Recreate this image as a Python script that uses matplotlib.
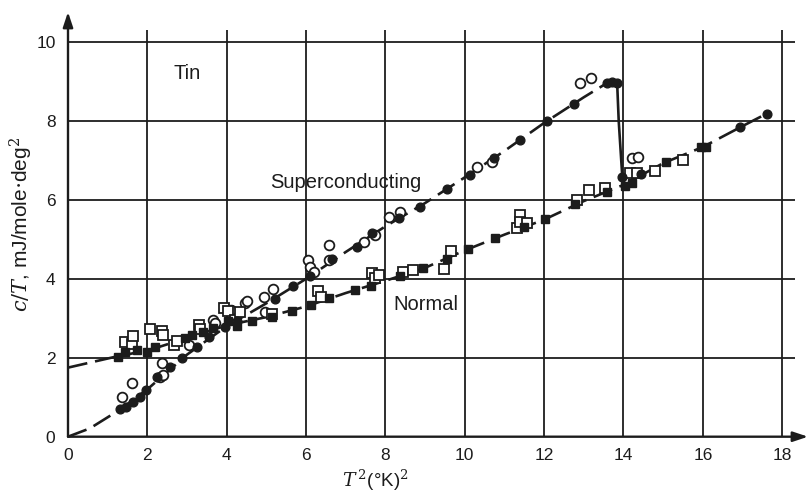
import matplotlib
matplotlib.use("Agg")
import matplotlib.pyplot as plt
import numpy as np

plt.rcParams['font.family'] = ['Liberation Sans', 'DejaVu Sans']
plt.rcParams['mathtext.fontset'] = 'dejavuserif'

INK = '#1c1c1c'

# superconducting state: filled circles (measured), open circles (other run)
sc_fill_x = [1.31, 1.45, 1.65, 1.82, 1.96, 2.24, 2.57, 2.87, 3.25, 3.56, 3.96, 4.25,
             5.22, 5.68, 6.10, 6.65, 7.28, 7.66, 8.33, 8.86, 9.55, 10.14, 10.73,
             11.40, 12.06, 12.74, 13.58, 13.70, 13.84]
sc_fill_y = [0.69, 0.75, 0.89, 1.01, 1.18, 1.52, 1.76, 1.99, 2.26, 2.52, 2.79, 2.92,
             3.50, 3.83, 4.06, 4.50, 4.80, 5.17, 5.54, 5.83, 6.28, 6.63, 7.06,
             7.52, 7.99, 8.43, 8.97, 8.98, 8.96]
sc_open_x = [1.35, 1.61, 2.32, 2.40, 2.36, 3.06, 3.66, 3.71, 4.10, 4.46, 4.50, 4.93,
             4.97, 5.16, 6.06, 6.10, 6.19, 6.57, 6.59, 7.45, 7.74, 8.10, 8.36,
             10.32, 10.69, 12.91, 13.18, 14.22, 14.36]
sc_open_y = [1.01, 1.35, 1.52, 1.56, 1.86, 2.32, 2.96, 2.87, 3.21, 3.38, 3.45, 3.55,
             3.17, 3.74, 4.48, 4.31, 4.18, 4.48, 4.86, 4.94, 5.11, 5.56, 5.70,
             6.83, 6.97, 8.96, 9.08, 7.06, 7.08]

# normal state: filled squares, open squares
n_fill_x = [1.27, 1.44, 1.73, 1.98, 2.19, 2.95, 3.12, 3.41, 3.66, 4.04, 4.25, 4.63,
            5.14, 5.64, 6.12, 6.59, 7.24, 7.63, 8.37, 8.95, 9.55, 10.08, 10.77,
            11.48, 12.03, 12.79, 13.59, 14.05, 14.22, 15.06, 15.95, 16.08]
n_fill_y = [2.03, 2.15, 2.20, 2.15, 2.28, 2.49, 2.58, 2.66, 2.75, 2.92, 2.81, 2.94,
            3.04, 3.19, 3.34, 3.51, 3.72, 3.82, 4.06, 4.27, 4.50, 4.75, 5.03,
            5.32, 5.51, 5.90, 6.19, 6.36, 6.42, 6.97, 7.34, 7.34]
n_open_x = [1.44, 1.61, 1.65, 2.07, 2.36, 2.40, 2.66, 2.74, 3.31, 3.33, 3.94, 4.03,
            4.21, 4.34, 5.14, 6.31, 6.37, 7.66, 7.74, 7.83, 8.44, 8.69, 9.47, 9.65,
            11.32, 11.40, 11.40, 11.58, 12.83, 13.12, 13.54, 14.13, 14.17, 14.33,
            14.80, 15.50]
n_open_y = [2.41, 2.35, 2.55, 2.74, 2.69, 2.58, 2.32, 2.43, 2.83, 2.73, 3.25, 3.19,
            2.96, 3.15, 3.10, 3.68, 3.55, 4.14, 4.01, 4.10, 4.18, 4.23, 4.24, 4.71,
            5.28, 5.62, 5.45, 5.41, 6.00, 6.25, 6.30, 6.52, 6.68, 6.68,
            6.72, 7.00]
n_dot_x = [13.96, 14.43, 16.93, 17.62]
n_dot_y = [6.58, 6.66, 7.84, 8.18]

# fitted curves drawn through the data
sc_curve_x = [0, 0.55, 1.3, 2, 3, 4, 5, 6, 7, 8, 9, 10, 11, 12, 13, 13.6, 13.84]
sc_curve_y = [0, 0.21, 0.68, 1.2, 2.08, 2.8, 3.38, 4.0, 4.68, 5.33, 5.92, 6.57,
              7.24, 7.95, 8.6, 8.97, 8.96]
jump_x = [13.84, 13.88, 13.97]
jump_y = [8.96, 7.99, 6.58]
n_curve_x = [0, 1.3, 2, 3, 4, 5, 6, 7, 8, 9, 10, 11, 12, 13, 14, 15, 16, 17, 17.6]
n_curve_y = [1.75, 2.05, 2.18, 2.50, 2.82, 3.03, 3.30, 3.64, 3.95, 4.28, 4.72,
             5.12, 5.50, 5.97, 6.38, 6.93, 7.34, 7.87, 8.18]

x_ticks = [0, 2, 4, 6, 8, 10, 12, 14, 16, 18]
y_ticks = [0, 2, 4, 6, 8, 10]

fig = plt.figure(figsize=(8.1, 4.96), dpi=100)
ax = fig.add_axes([68 / 810, 59.3 / 496, 740 / 810, 424.7 / 496])
ax.set_xlim(0, 18.65)
ax.set_ylim(0, 10.76)
for s in ax.spines.values():
    s.set_visible(False)

# grid
ax.vlines(x_ticks[1:], 0, 10.3, color=INK, lw=1.3, zorder=1)
ax.hlines(y_ticks[1:], 0, 18.33, color=INK, lw=1.3, zorder=1)

# axes with arrows
ax.annotate('', xy=(0, 10.76), xytext=(0, 0), annotation_clip=False,
            arrowprops=dict(arrowstyle='-|>,head_length=0.9,head_width=0.3',
                            color=INK, lw=1.7, shrinkA=0, shrinkB=0))
ax.annotate('', xy=(18.65, 0), xytext=(0, 0), annotation_clip=False,
            arrowprops=dict(arrowstyle='-|>,head_length=0.9,head_width=0.3',
                            color=INK, lw=1.7, shrinkA=0, shrinkB=0))

dash = (0, (7.5, 3))
ax.plot(sc_curve_x, sc_curve_y, color=INK, lw=1.9, linestyle=dash, zorder=2, clip_on=False)
ax.plot(n_curve_x, n_curve_y, color=INK, lw=1.9, linestyle=dash, zorder=2, clip_on=False)
ax.plot(jump_x, jump_y, color=INK, lw=1.9, zorder=2)

ax.plot(sc_open_x, sc_open_y, 'o', ms=7, mfc='white', mec=INK, mew=1.3, zorder=3)
ax.plot(n_open_x, n_open_y, 's', ms=6.5, mfc='white', mec=INK, mew=1.3, zorder=3)
ax.plot(sc_fill_x, sc_fill_y, 'o', ms=6.3, color=INK, zorder=4)
ax.plot(n_fill_x, n_fill_y, 's', ms=6, color=INK, zorder=4)
ax.plot(n_dot_x, n_dot_y, 'o', ms=6.3, color=INK, zorder=4)

ax.set_xticks(x_ticks)
ax.set_yticks(y_ticks)
ax.tick_params(length=0, labelsize=12.5, colors=INK)
ax.tick_params(axis='x', pad=8)
ax.tick_params(axis='y', pad=9)

ax.set_xlabel(r'$T^{\,2}$(°K)$^{2}$', fontsize=13.5, color=INK)
ax.xaxis.set_label_coords(0.415, -0.073)
ax.set_ylabel(r'$c/T$, mJ/mole$\cdot$deg$^2$', fontsize=15, color=INK)
ax.yaxis.set_label_coords(-0.045, 0.5)

ax.text(3.0, 9.2, 'Tin', fontsize=14.5, color=INK, ha='center', va='center')
ax.text(7.0, 6.45, 'Superconducting', fontsize=14.5, color=INK, ha='center', va='center')
ax.text(8.2, 3.36, 'Normal', fontsize=14.5, color=INK, ha='left', va='center')

fig.savefig('out.png', dpi=100, facecolor='white')
